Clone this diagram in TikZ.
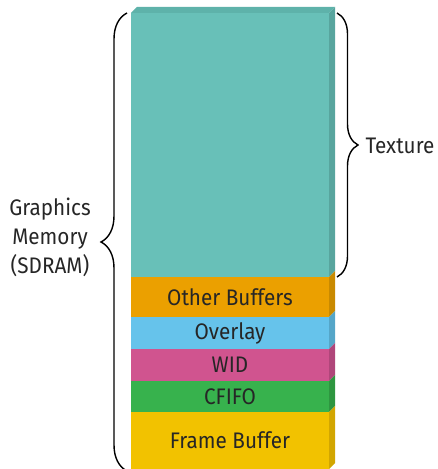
\documentclass[tikz,border=0pt]{standalone}
\usepackage{fontspec}
\setmainfont[FakeStretch=0.92]{Fira Sans}
\usepackage{tikz}
\usetikzlibrary{positioning,decorations.pathreplacing}

\definecolor{texfront}{HTML}{68C0B8}
\definecolor{texside}{HTML}{58A59E}
\definecolor{textop}{HTML}{5EB2AA}
\definecolor{othfront}{HTML}{EBA000}
\definecolor{othside}{HTML}{C98A00}
\definecolor{ovlfront}{HTML}{66C3EB}
\definecolor{ovlside}{HTML}{55A6C8}
\definecolor{widfront}{HTML}{D0548F}
\definecolor{widside}{HTML}{B0467A}
\definecolor{cfifront}{HTML}{37B24D}
\definecolor{cfiside}{HTML}{2E9640}
\definecolor{frmfront}{HTML}{F2C200}
\definecolor{frmside}{HTML}{D2A600}

\begin{document}
\begin{tikzpicture}[x=1pt, y=1pt,
  font=\fontsize{22.5}{29}\selectfont,
  membox/.style={minimum width=198pt, inner sep=0pt, outer sep=0pt, text=black!85},
  bracket/.style={draw, line width=1.4pt, decoration={brace, amplitude=#1}, decorate},
  sidelabel/.style={text=black!85, align=center}]
  \useasboundingbox (0,0) rectangle (437,469);

  % memory stack, top to bottom
  \node[membox, fill=texfront, minimum height=264pt] (tex) at (230,324) {};
  \node[membox, fill=othfront, minimum height=40pt, below=0pt of tex] (oth) {Other Buffers};
  \node[membox, fill=ovlfront, minimum height=32pt, below=0pt of oth] (ovl) {Overlay};
  \node[membox, fill=widfront, minimum height=32pt, below=0pt of ovl] (wid) {WID};
  \node[membox, fill=cfifront, minimum height=31pt, below=0pt of wid] (cfi) {CFIFO};
  \node[membox, fill=frmfront, minimum height=57pt, below=0pt of cfi] (frm) {Frame Buffer};

  % side faces and top face
  \foreach \b/\c in {tex/texside, oth/othside, ovl/ovlside, wid/widside, cfi/cfiside, frm/frmside}
    \fill[\c] (\b.south east) -- ++(6,6) -- ([shift={(6pt,6pt)}]\b.north east) -- (\b.north east) -- cycle;
  \fill[textop] (tex.north west) -- ++(6,6) -- ([shift={(6pt,6pt)}]tex.north east) -- (tex.north east) -- cycle;

  % braces
  \coordinate (gmbot) at (127,-2);
  \coordinate (gmtop) at (127,456);
  \coordinate (txtop) at (337,456);
  \coordinate (txbot) at (337,192);
  \draw[bracket=26pt] (gmbot) -- (gmtop);
  \draw[bracket=21pt] (txtop) -- (txbot);

  \node[sidelabel, anchor=west] (txlabel) at (362,323) {Texture};
  \node[sidelabel] (gmlabel) at (50,232) {Graphics\\Memory\\(SDRAM)};
\end{tikzpicture}
\end{document}
